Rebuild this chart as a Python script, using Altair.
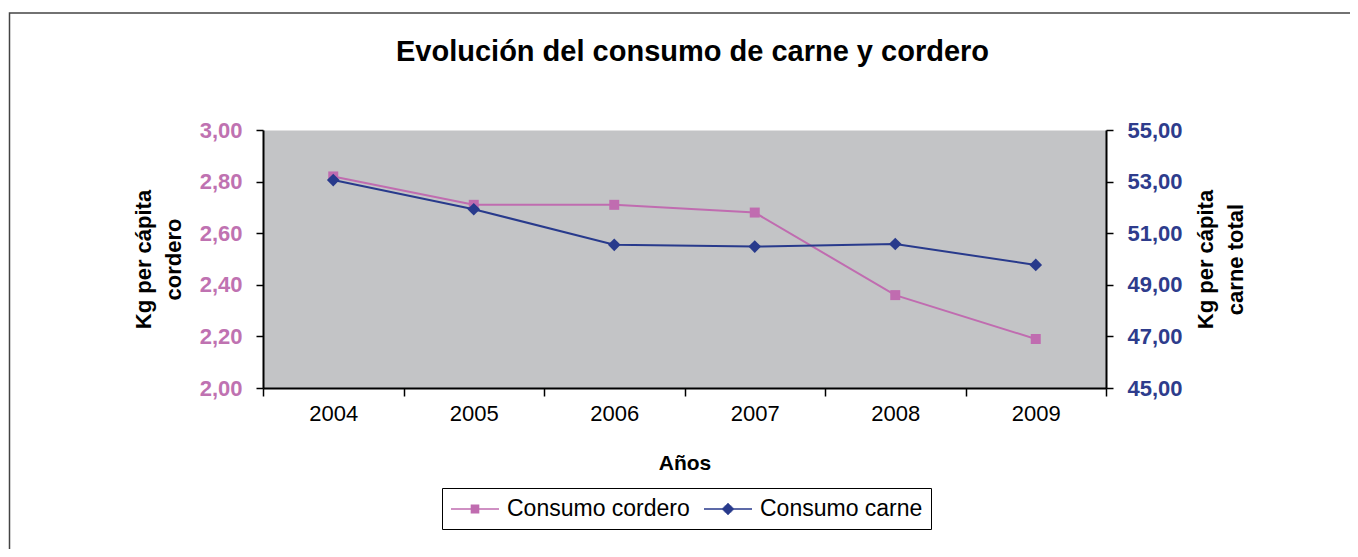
import altair as alt
import pandas as pd

# ---- data ----
years = ["2004", "2005", "2006", "2007", "2008", "2009"]
cordero = [2.82, 2.71, 2.71, 2.68, 2.36, 2.19]        # Kg per cápita cordero (left axis)
carne = [53.06, 51.93, 50.55, 50.48, 50.58, 49.77]    # Kg per cápita carne total (right axis)
series = ["Consumo cordero", "Consumo carne"]
left_ticks = [2.0, 2.2, 2.4, 2.6, 2.8, 3.0]
right_ticks = [45, 47, 49, 51, 53, 55]

PINK = "#C06CB0"
NAVY = "#283A8C"
PINK_TXT = "#BF72B1"
NAVY_TXT = "#2E3C8C"
FONT = "Liberation Sans"

df_c = pd.DataFrame({"anio": years, "valor": cordero, "serie": series[0]})
df_k = pd.DataFrame({"anio": years, "valor": carne, "serie": series[1]})

W, H = 843, 258


# legend glyphs (unit = 12 px): a horizontal line with a marker in the middle, strokes only
def glyph(kind):
    parts = ["M-2,0H2"]
    step = 0.08
    if kind == "square":
        h = 0.36
        y = -0.32
        while y <= 0.321:
            parts.append(f"M{-h:.3f},{y:.3f}H{h:.3f}")
            y += step
    else:
        h = 0.5
        y = -0.44
        while y <= 0.441:
            w = h - abs(y)
            parts.append(f"M{-w:.3f},{y:.3f}H{w:.3f}")
            y += step
    return "".join(parts)


x_enc = alt.X(
    "anio:O",
    title="Años",
    bandPosition=0.5,
    scale=alt.Scale(type="band", domain=years, paddingInner=0, paddingOuter=0),
    axis=alt.Axis(
        labelAngle=0, tickBand="extent", labelFont=FONT, labelFontSize=22,
        labelColor="black", labelPadding=7, tickSize=8, tickColor="black",
        tickWidth=1.5, domainColor="black", domainWidth=2, grid=False,
        titleFont=FONT, titleFontSize=21, titleFontWeight="bold",
        titleColor="black", titlePadding=28,
    ),
)

legend = alt.Legend(
    title=None, orient="none", legendX=179, legendY=358, direction="horizontal",
    columns=2, strokeColor="black", fillColor="white", padding=8,
    labelFont=FONT, labelFontSize=23, labelColor="black", labelLimit=400,
    symbolSize=576, symbolOffset=12, labelOffset=19,
    columnPadding=11, symbolStrokeWidth=1.5, symbolOpacity=1,
)

color_scale = alt.Scale(domain=series, range=[PINK, NAVY])

axis_common = dict(
    labelFont=FONT, labelFontSize=22, labelFontWeight="bold", labelPadding=14,
    tickSize=7, tickColor="black", tickWidth=1.5, domainColor="black",
    domainWidth=2, grid=False, titleFont=FONT, titleFontSize=22,
    titleFontWeight="bold", titleColor="black", titleLineHeight=30,
    labelExpr="replace(format(datum.value, '.2f'), '.', ',')",
)

y_left = alt.Y(
    "valor:Q",
    scale=alt.Scale(domain=[2, 3], nice=False, zero=False),
    axis=alt.Axis(orient="left", values=left_ticks, labelColor=PINK_TXT,
                  title=["Kg per cápita", "cordero"], titlePadding=14, **axis_common),
)
y_right = alt.Y(
    "valor:Q",
    scale=alt.Scale(domain=[45, 55], nice=False, zero=False),
    axis=alt.Axis(orient="right", values=right_ticks, labelColor=NAVY_TXT,
                  title=["Kg per cápita", "carne total"], titleAngle=270,
                  titlePadding=5, **axis_common),
)

pink_line = alt.Chart(df_c).mark_line(strokeWidth=2, color=PINK).encode(x=x_enc, y=y_left)
pink_pts = alt.Chart(df_c).mark_point(shape="square", filled=True, size=100, opacity=1).encode(
    x=x_enc, y=y_left, color=alt.value(PINK))
# invisible layer that only carries the legend (line + marker glyphs)
legend_pts = alt.Chart(df_c).mark_point(filled=False, opacity=0, strokeWidth=1.5).encode(
    x=x_enc, y=y_left,
    color=alt.Color("serie:N", scale=color_scale, legend=legend),
    shape=alt.Shape("serie:N", scale=alt.Scale(domain=series, range=[glyph("square"), glyph("diamond")]),
                    legend=legend),
)
left_layer = alt.layer(pink_line, pink_pts, legend_pts)

navy_line = alt.Chart(df_k).mark_line(strokeWidth=2, color=NAVY).encode(x=x_enc, y=y_right)
navy_pts = alt.Chart(df_k).mark_point(shape="diamond", filled=True, size=160, opacity=1).encode(
    x=x_enc, y=y_right, color=alt.value(NAVY))
right_layer = alt.layer(navy_line, navy_pts)

frame = alt.Chart(pd.DataFrame({"f": [0]})).mark_rect(
    fill="transparent", stroke="#444444", strokeWidth=1.5
).encode(
    x=alt.value(-253.5), x2=alt.value(1300), y=alt.value(-117), y2=alt.value(600)
)

chart = alt.layer(frame, left_layer, right_layer).resolve_scale(y="independent").properties(
    width=W, height=H,
    title=alt.TitleParams(
        "Evolución del consumo de carne y cordero", font=FONT, fontSize=29,
        fontWeight="bold", color="black", anchor="middle", frame="group",
        baseline="alphabetic", offset=0, dx=8, dy=78,
    ),
    autosize=alt.AutoSizeParams(type="none"),
    padding={"left": 255, "top": 122, "right": 244, "bottom": 161},
).configure(background="white").configure_view(fill="#C3C4C6", stroke="transparent")

chart.save("out.html", embed_options={"renderer": "svg", "actions": False})
